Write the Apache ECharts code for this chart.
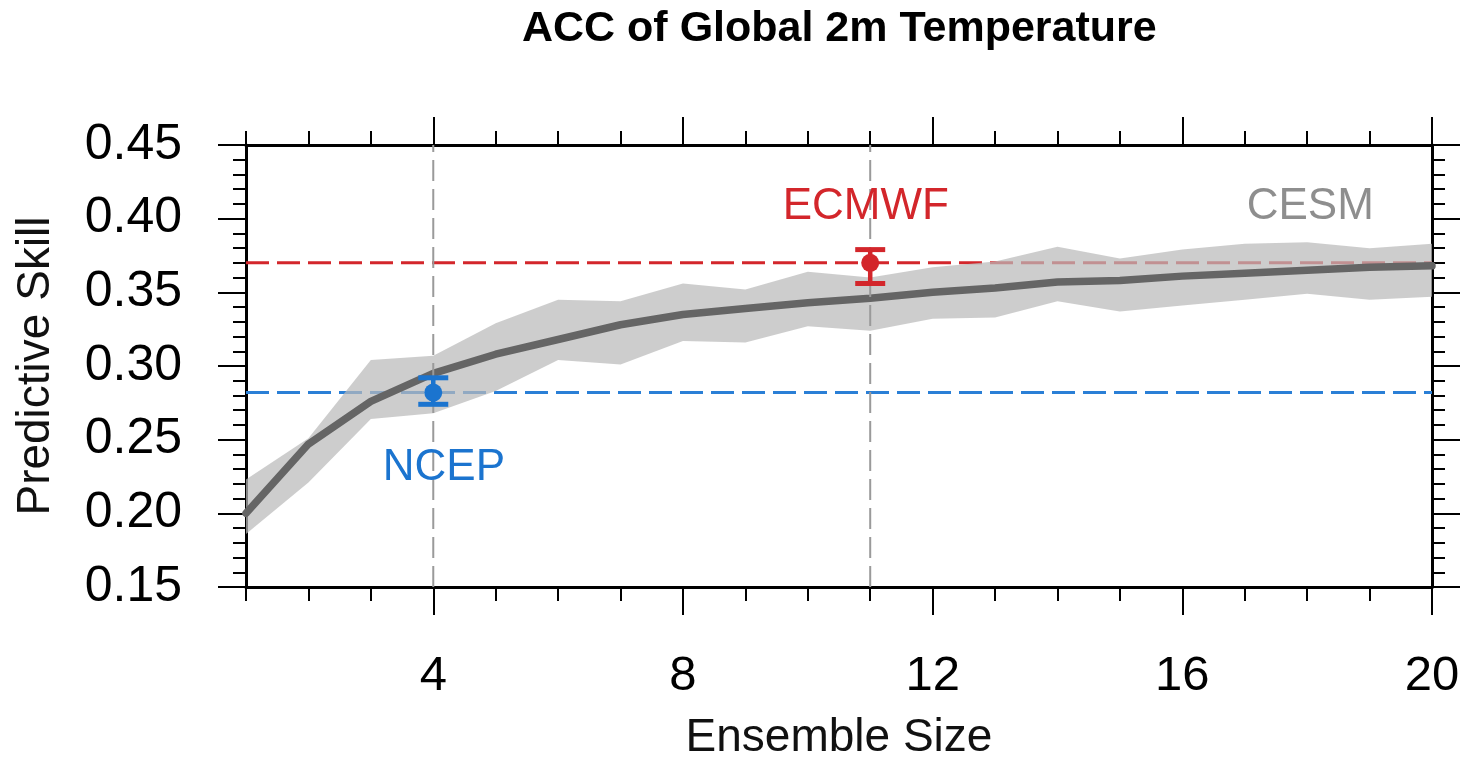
<!DOCTYPE html>
<html>
<head>
<meta charset="utf-8">
<script src="https://cdn.jsdelivr.net/npm/echarts@6/dist/echarts.min.js"></script>
<style>
html,body{margin:0;padding:0;background:#fff;}
#chart{width:1465px;height:766px;}
</style>
</head>
<body>
<div id="chart"></div>
<script>
// ---- data ----
const ensembleSize = [1,2,3,4,5,6,7,8,9,10,11,12,13,14,15,16,17,18,19,20];
const cesmMean  = [0.200,0.247,0.276,0.295,0.308,0.318,0.328,0.335,0.339,0.343,0.346,0.350,0.353,0.357,0.358,0.361,0.363,0.365,0.367,0.368];
const cesmUpper = [0.223,0.251,0.304,0.307,0.329,0.345,0.344,0.356,0.352,0.364,0.360,0.367,0.371,0.381,0.373,0.379,0.383,0.384,0.380,0.383];
const cesmLower = [0.186,0.221,0.264,0.268,0.283,0.304,0.301,0.317,0.316,0.327,0.324,0.332,0.333,0.344,0.337,0.341,0.345,0.349,0.345,0.347];
// [ensemble size, skill, low, high]
const ncepPoint  = [4, 0.282, 0.274, 0.292];
const ecmwfPoint = [11, 0.370, 0.356, 0.379];
const ncepLevel = 0.282;
const ecmwfLevel = 0.370;
const xMajorTicks = [4, 8, 12, 16, 20];
// annotation anchors in data units: [x, y, text]
const annotations = [
  [10.93, 0.408, 'ECMWF'],
  [4.17, 0.231, 'NCEP'],
  [18.05, 0.408, 'CESM']
];

const RED = '#d3262b', BLUE = '#2a7fd6', BLUE_TXT = '#1b74cf', GREY_TXT = '#8e8e8e';
const FONT = '"Liberation Sans", Arial, Helvetica, sans-serif';

const chart = echarts.init(document.getElementById('chart'), null, {renderer: 'canvas'});

const majorTickX = {show: true, customValues: xMajorTicks, length: 28, lineStyle: {color: '#000', width: 2}};
const minorTickX = {show: true, interval: 0, length: 14, lineStyle: {color: '#000', width: 2}};
const axisLineBlk = {show: true, onZero: false, lineStyle: {color: '#000', width: 3}};

function xAxisBase(pos, extra) {
  return Object.assign({
    type: 'value', position: pos, min: 1, max: 20, gridIndex: 0,
    splitLine: {show: false}, axisLine: {show: false}, axisLabel: {show: false}, axisTick: {show: false}
  }, extra);
}

const annotColors = {ECMWF: RED, NCEP: BLUE_TXT, CESM: GREY_TXT};

function errorBarSeries(name, point, color) {
  return {
    type: 'custom', name: name, z: 6, xAxisIndex: 0, yAxisIndex: 0,
    data: [point],
    renderItem: function (params, api) {
      const c = api.coord([api.value(0), api.value(1)]);
      const lo = api.coord([api.value(0), api.value(2)]);
      const hi = api.coord([api.value(0), api.value(3)]);
      const hw = 15;
      return {
        type: 'group',
        children: [
          {type: 'line', shape: {x1: c[0], y1: lo[1], x2: c[0], y2: hi[1]}, style: {stroke: color, lineWidth: 4.5}},
          {type: 'line', shape: {x1: c[0] - hw, y1: lo[1], x2: c[0] + hw, y2: lo[1]}, style: {stroke: color, lineWidth: 5}},
          {type: 'line', shape: {x1: c[0] - hw, y1: hi[1], x2: c[0] + hw, y2: hi[1]}, style: {stroke: color, lineWidth: 5}},
          {type: 'circle', shape: {cx: c[0], cy: c[1], r: 9}, style: {fill: color}}
        ]
      };
    }
  };
}

const option = {
  animation: false,
  backgroundColor: '#fff',
  graphic: [{
    type: 'text', left: 839 - 317, top: 8,
    style: {text: 'ACC of Global 2m Temperature', font: 'bold 43px ' + FONT, fill: '#000'}
  }],
  grid: {left: 246, top: 145, width: 1186, height: 444, containLabel: false},
  xAxis: [
    xAxisBase('bottom', {
      axisLine: axisLineBlk,
      axisTick: majorTickX,
      axisLabel: {show: true, customValues: xMajorTicks, fontSize: 49, fontFamily: FONT, color: '#000', margin: 65},
      name: 'Ensemble Size', nameLocation: 'middle', nameGap: 128,
      nameTextStyle: {fontSize: 46, fontFamily: FONT, color: '#111'}
    }),
    xAxisBase('bottom', {interval: 1, axisTick: minorTickX}),
    xAxisBase('top', {axisLine: axisLineBlk, axisTick: majorTickX}),
    xAxisBase('top', {interval: 1, axisTick: minorTickX})
  ],
  yAxis: [
    {
      type: 'value', position: 'left', min: 0.15, max: 0.45, interval: 0.05,
      axisLine: axisLineBlk,
      axisTick: {show: true, length: 28, lineStyle: {color: '#000', width: 2}},
      minorTick: {show: true, splitNumber: 5, length: 13, lineStyle: {color: '#000', width: 2}},
      splitLine: {show: false}, minorSplitLine: {show: false},
      axisLabel: {show: true, fontSize: 50, fontFamily: FONT, color: '#000', margin: 64,
        formatter: function (v) { return v.toFixed(2); }},
      name: 'Predictive Skill', nameLocation: 'middle', nameGap: 187,
      nameTextStyle: {fontSize: 46, fontFamily: FONT, color: '#111'}
    },
    {
      type: 'value', position: 'right', min: 0.15, max: 0.45, interval: 0.05,
      axisLine: axisLineBlk,
      axisTick: {show: true, length: 28, lineStyle: {color: '#000', width: 2}},
      minorTick: {show: true, splitNumber: 5, length: 13, lineStyle: {color: '#000', width: 2}},
      splitLine: {show: false}, minorSplitLine: {show: false},
      axisLabel: {show: false}
    }
  ],
  series: [
    {
      type: 'line', name: 'ECMWF level', z: 1, symbol: 'none', silent: true,
      data: [[1, ecmwfLevel], [20, ecmwfLevel]],
      lineStyle: {color: RED, width: 3, type: [23, 8]}
    },
    {
      type: 'line', name: 'NCEP level', z: 1, symbol: 'none', silent: true,
      data: [[1, ncepLevel], [20, ncepLevel]],
      lineStyle: {color: BLUE, width: 3, type: [23, 8]}
    },
    {
      type: 'custom', name: 'CESM spread', z: 2, silent: true,
      data: ensembleSize.map((x, i) => [x, cesmLower[i], cesmUpper[i]]),
      renderItem: function (params, api) {
        if (params.dataIndex !== 0) return null;
        const pts = [];
        for (let i = 0; i < ensembleSize.length; i++) pts.push(api.coord([ensembleSize[i], cesmUpper[i]]));
        for (let i = ensembleSize.length - 1; i >= 0; i--) pts.push(api.coord([ensembleSize[i], cesmLower[i]]));
        return {type: 'polygon', shape: {points: pts}, style: {fill: '#bababa', opacity: 0.72}};
      }
    },
    {
      type: 'line', name: 'CESM', z: 3, symbol: 'none', silent: true,
      data: ensembleSize.map((x, i) => [x, cesmMean[i]]),
      lineStyle: {color: '#656565', width: 7.5, cap: 'round', join: 'round'}
    },
    {
      type: 'line', name: 'NCEP size', z: 4, symbol: 'none', silent: true,
      data: [[ncepPoint[0], 0.15], [ncepPoint[0], 0.45]],
      lineStyle: {color: '#9a9a9a', width: 2, type: [21, 8]}
    },
    {
      type: 'line', name: 'ECMWF size', z: 4, symbol: 'none', silent: true,
      data: [[ecmwfPoint[0], 0.15], [ecmwfPoint[0], 0.45]],
      lineStyle: {color: '#9a9a9a', width: 2, type: [21, 8]}
    },
    errorBarSeries('NCEP', ncepPoint, BLUE_TXT),
    errorBarSeries('ECMWF', ecmwfPoint, RED),
    {
      type: 'custom', name: 'labels', z: 7, silent: true,
      data: annotations,
      renderItem: function (params, api) {
        const a = annotations[params.dataIndex];
        const p = api.coord([a[0], a[1]]);
        return {
          type: 'text', x: p[0], y: p[1],
          style: {text: a[2], fill: annotColors[a[2]], font: '44px ' + FONT, align: 'center', verticalAlign: 'middle'}
        };
      }
    }
  ]
};
chart.setOption(option);
</script>
</body>
</html>
